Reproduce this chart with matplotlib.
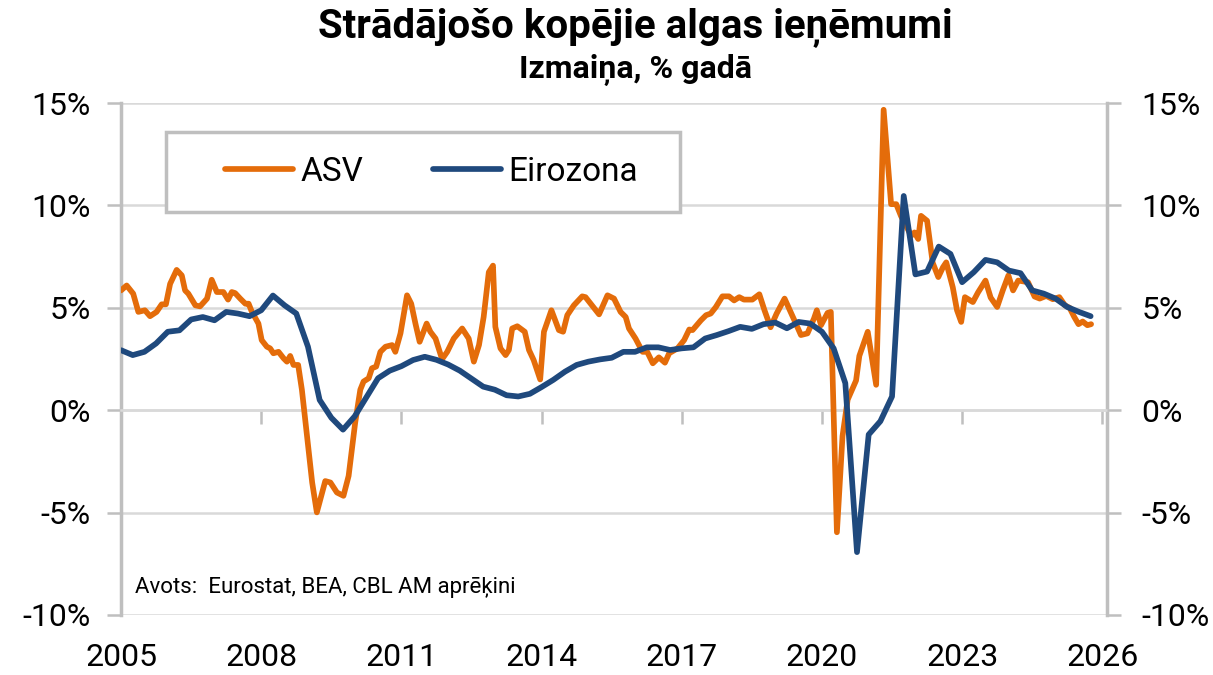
import numpy as np
import matplotlib
matplotlib.use("Agg")
import matplotlib.pyplot as plt
from matplotlib.patches import Rectangle
from matplotlib.ticker import FuncFormatter

plt.rcParams['font.family'] = ['Roboto', 'DejaVu Sans']

# --- dati ---
# Eirozona, ceturkšņa dati (sākot ar 2005. g. 1. cet.)
ez_start = 2005.0
ez_vals = [2.93, 2.69, 2.85, 3.26, 3.83, 3.90, 4.43, 4.55, 4.39, 4.80,
           4.72, 4.59, 4.88, 5.60, 5.12, 4.72, 3.10, 0.50, -0.37, -0.95,
           -0.30, 0.63, 1.56, 1.93, 2.15, 2.45, 2.61, 2.46, 2.23, 1.93,
           1.54, 1.15, 1.00, 0.73, 0.67, 0.80, 1.13, 1.48, 1.88, 2.21,
           2.37, 2.48, 2.56, 2.85, 2.85, 3.07, 3.07, 2.94, 3.02, 3.07,
           3.50, 3.67, 3.86, 4.07, 3.97, 4.20, 4.28, 4.00, 4.31, 4.23,
           3.83, 3.02, 1.32, -6.93, -1.19, -0.54, 0.67, 10.46, 6.63, 6.77,
           7.99, 7.63, 6.25, 6.74, 7.34, 7.22, 6.82, 6.69, 5.85, 5.69,
           5.45, 5.04, 4.80, 4.59]

# ASV, mēneša dati (nolasīti lūzuma punkti)
us_dates = [2005.00, 2005.12, 2005.26, 2005.37, 2005.51, 2005.62, 2005.76, 2005.87, 2005.96,
            2006.05, 2006.19, 2006.30, 2006.37, 2006.44, 2006.59, 2006.69, 2006.84, 2006.94,
            2007.05, 2007.19, 2007.29, 2007.37, 2007.44, 2007.55, 2007.66, 2007.73, 2007.80,
            2007.94, 2008.01, 2008.12, 2008.19, 2008.26, 2008.37, 2008.48, 2008.55, 2008.62,
            2008.69, 2008.79, 2008.87, 2008.98, 2009.09, 2009.19, 2009.37, 2009.48, 2009.62,
            2009.76, 2009.87, 2010.01, 2010.12, 2010.19, 2010.30, 2010.37, 2010.46, 2010.55,
            2010.66, 2010.80, 2010.87, 2010.98, 2011.12, 2011.21, 2011.30, 2011.39, 2011.54,
            2011.62, 2011.73, 2011.87, 2011.98, 2012.12, 2012.30, 2012.44, 2012.55, 2012.66,
            2012.76, 2012.87, 2012.96, 2013.01, 2013.12, 2013.23, 2013.30, 2013.37, 2013.48,
            2013.64, 2013.73, 2013.83, 2013.97, 2014.05, 2014.21, 2014.37, 2014.46, 2014.55,
            2014.69, 2014.87, 2014.94, 2015.23, 2015.41, 2015.55, 2015.69, 2015.80, 2015.87,
            2016.01, 2016.16, 2016.26, 2016.38, 2016.51, 2016.64, 2016.73, 2016.91, 2017.05,
            2017.16, 2017.23, 2017.41, 2017.52, 2017.62, 2017.73, 2017.87, 2018.01, 2018.12,
            2018.23, 2018.33, 2018.51, 2018.66, 2018.77, 2018.90, 2019.03, 2019.20, 2019.41,
            2019.55, 2019.69, 2019.83, 2019.89, 2019.98, 2020.12, 2020.19, 2020.32, 2020.44,
            2020.55, 2020.73, 2020.80, 2020.98, 2021.16, 2021.32, 2021.48, 2021.59, 2021.69,
            2021.91, 2021.98, 2022.06, 2022.12, 2022.25, 2022.37, 2022.49, 2022.59, 2022.66,
            2022.80, 2022.89, 2022.98, 2023.06, 2023.23, 2023.34, 2023.50, 2023.61, 2023.75,
            2023.87, 2023.99, 2024.09, 2024.20, 2024.41, 2024.55, 2024.66, 2024.80, 2024.94,
            2025.08, 2025.20, 2025.30, 2025.40, 2025.49, 2025.58, 2025.68, 2025.76]
us_vals = [5.85, 6.09, 5.69, 4.80, 4.88, 4.59, 4.80, 5.17, 5.17,
           6.17, 6.85, 6.58, 5.85, 5.69, 5.12, 5.07, 5.45, 6.37,
           5.77, 5.77, 5.40, 5.77, 5.72, 5.45, 5.20, 5.20, 4.80,
           4.23, 3.42, 3.10, 3.02, 2.78, 2.85, 2.53, 2.37, 2.65,
           2.21, 2.21, 1.00, -1.27, -3.53, -4.99, -3.46, -3.53, -4.02,
           -4.18, -3.21, -0.62, 1.00, 1.40, 1.56, 2.05, 2.13, 2.85,
           3.10, 3.18, 2.85, 3.75, 5.61, 5.20, 4.23, 3.34, 4.23,
           3.83, 3.50, 2.49, 2.85, 3.50, 3.99, 3.50, 2.37, 3.18,
           4.55, 6.74, 7.06, 4.07, 3.02, 2.69, 2.94, 3.99, 4.10,
           3.83, 2.94, 2.45, 1.50, 3.83, 4.88, 3.91, 3.83, 4.64,
           5.12, 5.56, 5.52, 4.68, 5.61, 5.45, 4.80, 4.55, 3.99,
           3.50, 2.85, 2.85, 2.29, 2.58, 2.32, 2.78, 3.02, 3.42,
           3.94, 3.91, 4.39, 4.64, 4.72, 5.04, 5.56, 5.56, 5.36,
           5.52, 5.40, 5.40, 5.66, 4.88, 4.05, 4.72, 5.45, 4.39,
           3.67, 3.75, 4.48, 4.88, 4.15, 4.75, 4.80, -5.96, -1.27,
           0.51, 1.45, 2.65, 3.83, 1.24, 14.67, 10.06, 10.06, 9.49,
           8.52, 8.68, 8.36, 9.49, 9.25, 7.20, 6.50, 6.98, 7.22,
           6.00, 4.88, 4.31, 5.52, 5.28, 5.75, 6.33, 5.50, 5.04,
           5.85, 6.58, 5.85, 6.33, 6.25, 5.55, 5.45, 5.58, 5.42,
           5.52, 5.12, 5.00, 4.55, 4.20, 4.33, 4.15, 4.20]

years = [2005, 2008, 2011, 2014, 2017, 2020, 2023, 2026]
y_ticks = [-10, -5, 0, 5, 10, 15]

ez_dates = ez_start + 0.25 * np.arange(len(ez_vals))

orange = '#E46C0A'
blue = '#1F497D'
grid_c = '#D9D9D9'
axis_c = '#BFBFBF'

fig = plt.figure(figsize=(12.13, 6.75), dpi=100)
ax = fig.add_axes([0.0998, 0.0889, 0.8128, 0.7585])

ax.plot(us_dates, us_vals, color=orange, lw=4.1, solid_joinstyle='round',
        solid_capstyle='round', label='ASV', zorder=3)
ax.plot(ez_dates, ez_vals, color=blue, lw=4.1, solid_joinstyle='round',
        solid_capstyle='round', label='Eirozona', zorder=4)

ax.set_xlim(2005, 2026.1)
ax.set_ylim(-10, 15)
ax.set_yticks(y_ticks)
pct = FuncFormatter(lambda v, p: f'{v:.0f}%')
ax.yaxis.set_major_formatter(pct)
ax.grid(axis='y', color=grid_c, lw=1.8, zorder=0)
ax.set_axisbelow(True)

for s in ['left', 'right']:
    ax.spines[s].set_color(axis_c)
    ax.spines[s].set_linewidth(2.5)
ax.spines['top'].set_visible(False)
ax.spines['bottom'].set_position(('data', 0))
ax.spines['bottom'].set_color(grid_c)
ax.spines['bottom'].set_linewidth(1.8)

ax.set_xticks(years)
ax.tick_params(axis='x', direction='out', length=10, width=1.8, color=axis_c,
               labelbottom=False)
ax.tick_params(axis='y', direction='out', length=10, width=1.8, color=axis_c,
               labelsize=23, pad=12)

sec = ax.secondary_xaxis(0)
sec.set_xticks(years)
sec.set_xticklabels([str(y) for y in years])
sec.tick_params(length=0, labelsize=23, pad=20)
sec.spines['bottom'].set_visible(False)

ax2 = ax.twinx()
ax2.set_ylim(-10, 15)
ax2.set_yticks(y_ticks)
ax2.yaxis.set_major_formatter(pct)
ax2.tick_params(axis='y', direction='out', length=10, width=1.8, color=axis_c,
                labelsize=23, pad=15)
for s in ['left', 'right', 'top', 'bottom']:
    ax2.spines[s].set_visible(False)

# legendas rāmis
box = Rectangle((0.0456, 0.787), 0.521, 0.157, transform=ax.transAxes,
                facecolor='white', edgecolor=axis_c, lw=2.5, zorder=5)
ax.add_patch(box)
leg = ax.legend(loc='center left', bbox_to_anchor=(0.1055, 0.866), ncol=2,
                fontsize=24, frameon=False, borderpad=0,
                handlelength=2.05, handletextpad=0.2, columnspacing=2.1,
                borderaxespad=0)
leg.set_zorder(6)

ax.text(0.014, 0.053, 'Avots:  Eurostat, BEA, CBL AM aprēķini', transform=ax.transAxes,
        fontsize=16, va='center', ha='left')

fig.text(0.5235, 0.96, 'Strādājošo kopējie algas ieņēmumi', ha='center', va='center',
         fontsize=29, fontweight='bold')
fig.text(0.5235, 0.896, 'Izmaiņa, % gadā', ha='center', va='center',
         fontsize=23, fontweight='bold')

fig.savefig('out.png', dpi=100)
